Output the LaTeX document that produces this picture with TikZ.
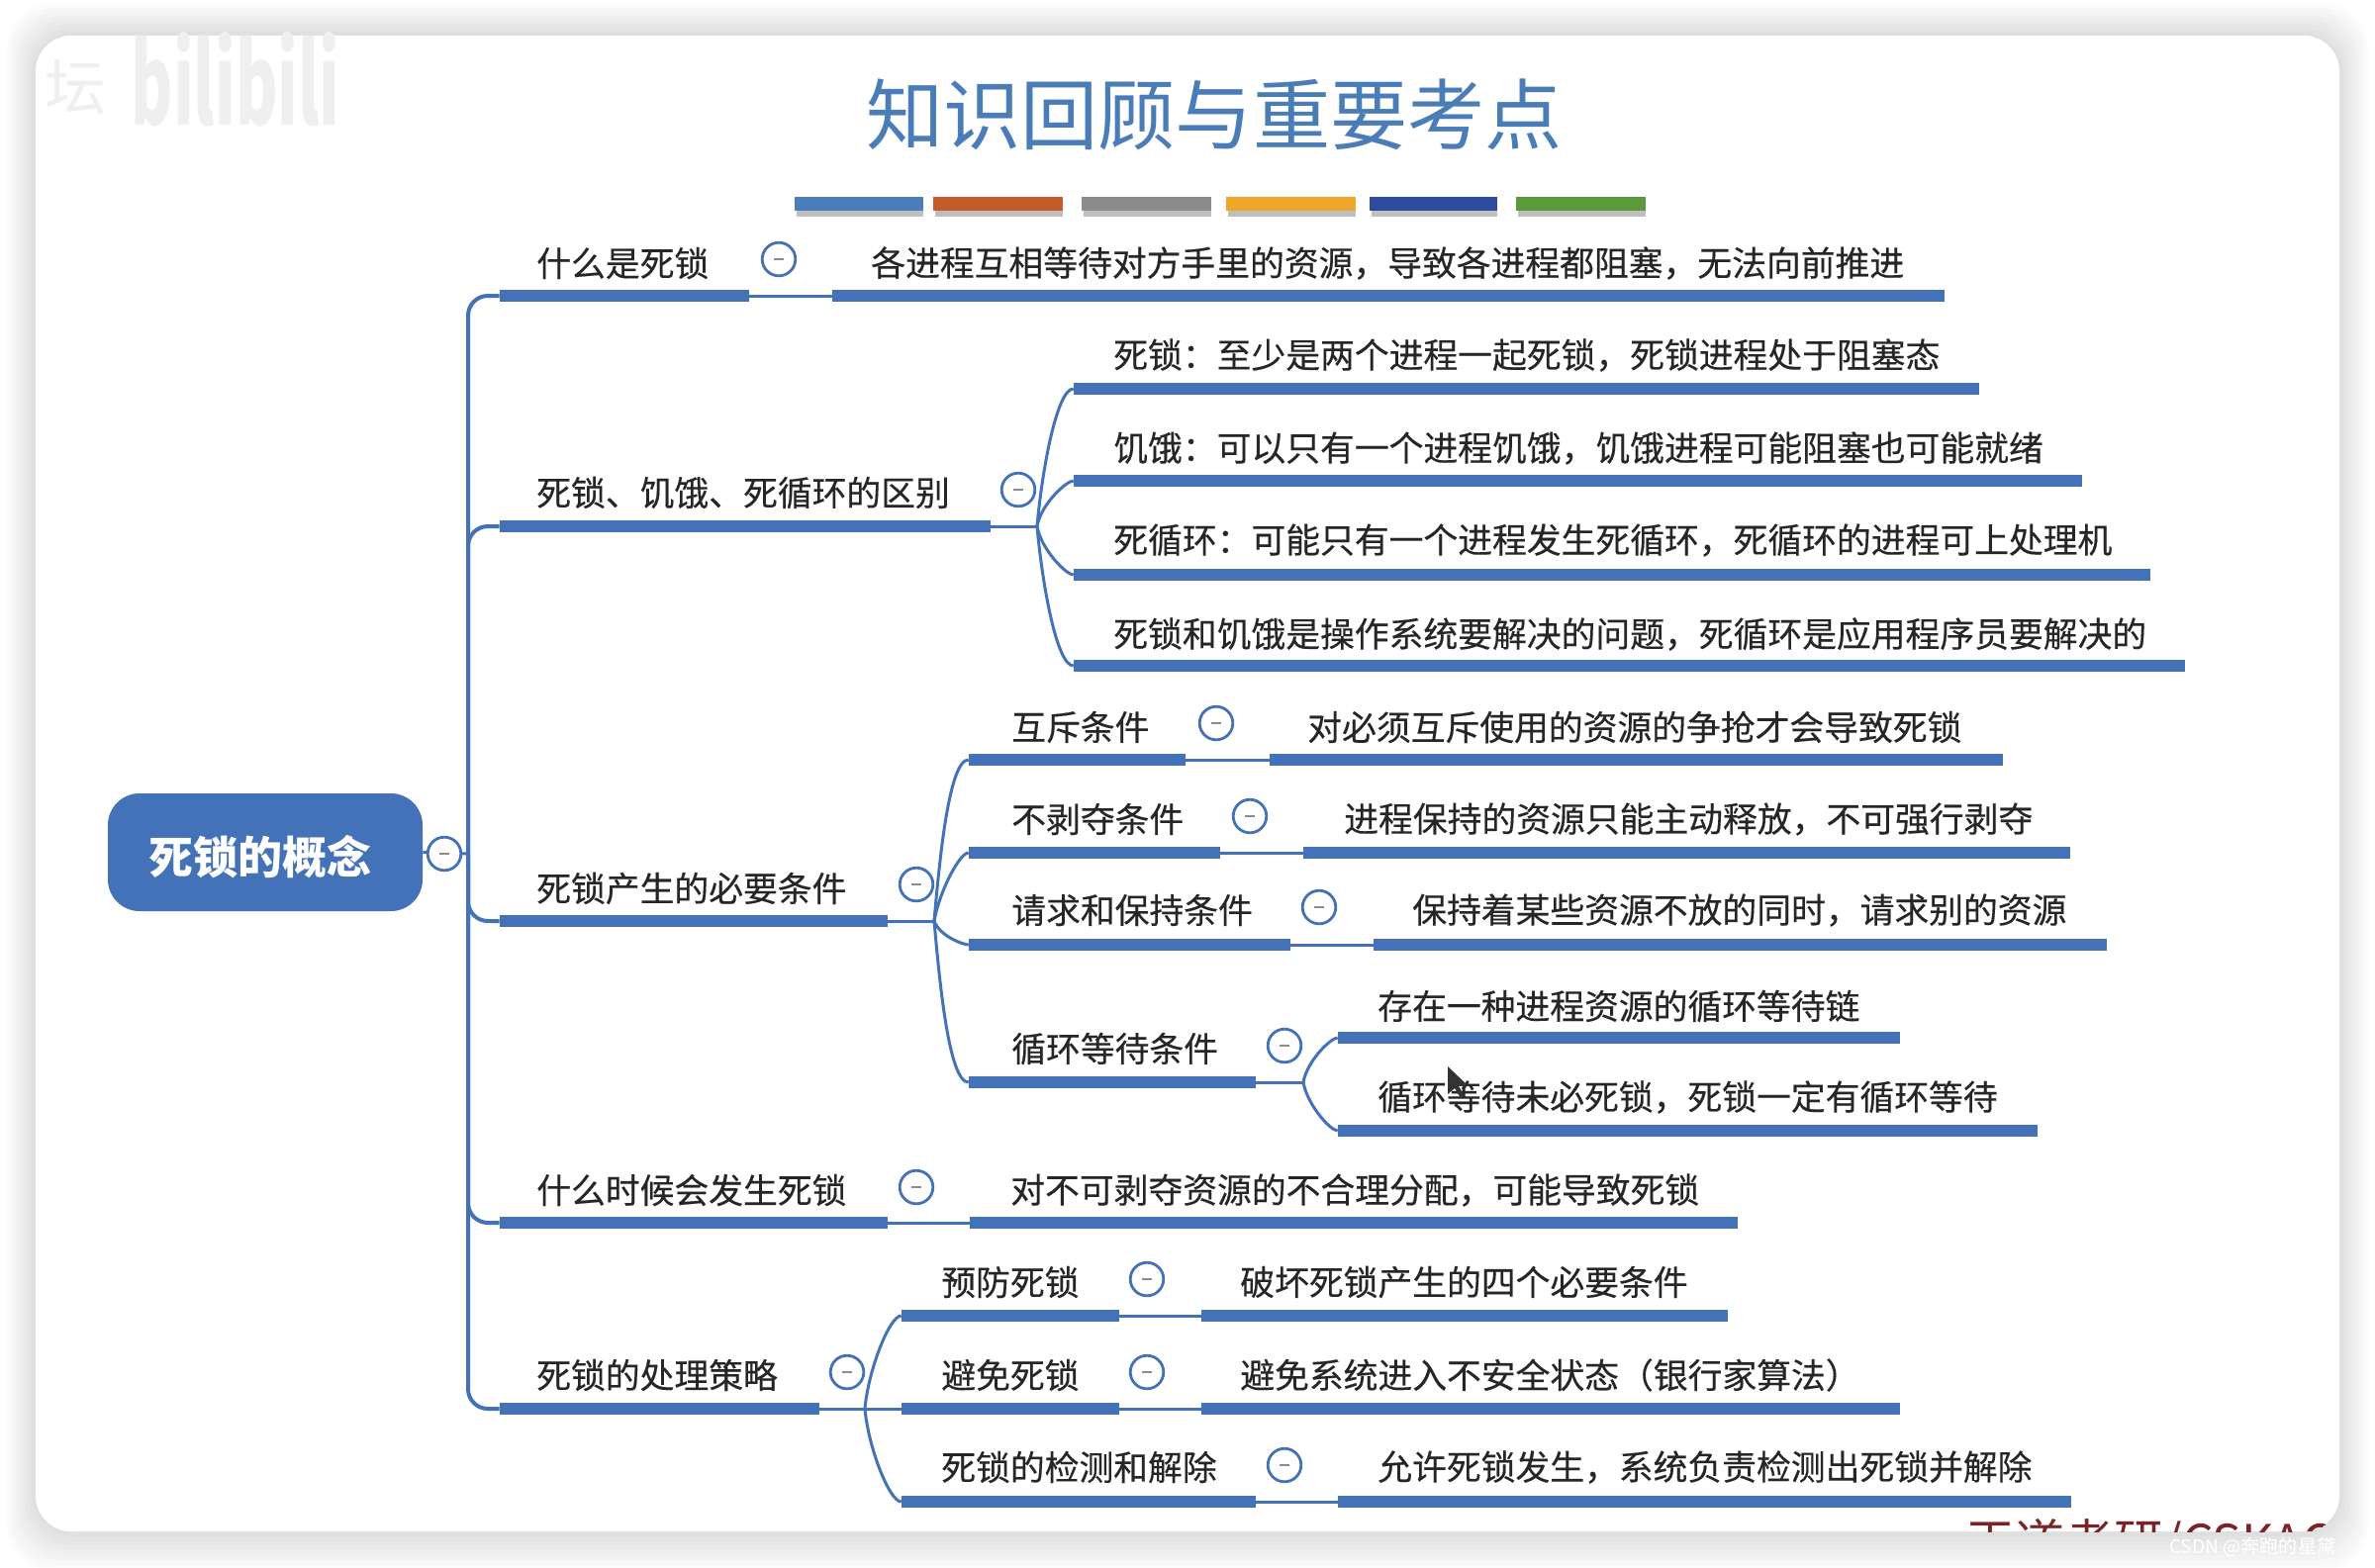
\documentclass[tikz,border=0pt]{standalone}
\usepackage{fontspec}
\setmainfont{Noto Sans CJK SC}
\newfontfamily\heavyfont{Noto Sans CJK SC}[FakeBold=0.35]
\usetikzlibrary{positioning,fit}
\definecolor{cLine}{HTML}{4472B8}
\definecolor{cTitle}{HTML}{4A7DB8}
\definecolor{cText}{HTML}{262626}
\definecolor{cMark}{HTML}{EFEFEF}
\definecolor{cBrand}{HTML}{7A2426}
\tikzset{
  card/.style  ={fill=white,rounded corners=9mm},
  root/.style  ={fill=cLine,rounded corners=8mm,inner sep=0pt},
  lbl/.style   ={anchor=west,inner sep=0pt,text=cText,
                 font=\fontsize{24.75}{30}\selectfont\heavyfont},
  wmark/.style ={inner sep=0pt,text=cMark},
  bar/.style   ={fill=cLine,inner sep=0pt,minimum height=3mm},
  link/.style  ={draw=cLine,line width=.75mm},
  twig/.style  ={in=180,in looseness=.3},
  bus/.style   ={link,line width=1mm,rounded corners=5mm},
  fold/.style  ={circle,draw=cLine,fill=white,line width=.7mm,minimum size=8.4mm,
                 inner sep=0pt,path picture={\draw[black!45,line width=.6mm]
                 ([xshift=-1.3mm]path picture bounding box.center) -- ++(2.6mm,0);}},
}
\begin{document}
\begin{tikzpicture}[x=.25mm, y=-.25mm]
\useasboundingbox (0,0) rectangle (2400,1584);

% --- card and its soft shadow ----------------------------------------------
\foreach \s in {32,28,...,0}
  \fill[black,opacity=.016,rounded corners=11mm]
    (36-\s*.9,36-\s) rectangle (2364+\s*.9,1548+\s*1.2);
\fill[card] (36,36) rectangle (2364,1548);

% --- corner marks ----------------------------------------------------------
\node[wmark,font=\fontsize{46}{50}\selectfont\bfseries] (logo) at (238,80)
  {\scalebox{1}[1.75]{bilibili}};
\node[wmark,font=\fontsize{44}{50}\selectfont] (logo2) at (76,88) {坛};
\node[inner sep=0pt,anchor=west,text=white,font=\fontsize{13.6}{16}\selectfont] (csdn)
  at (2192,1564) {CSDN @奔跑的星黛};
\begin{scope}
  \clip[rounded corners=9mm] (36,1400) rectangle (2364,1548);
  \node[inner sep=0pt,anchor=base west,text=cBrand,font=\fontsize{35.5}{40}\selectfont] (brand)
    at (1986,1577) {王道考研/CSKAOYAN.COM};
\end{scope}

% --- title and colour strip ------------------------------------------------
\node[inner sep=0pt,text=cTitle,font=\fontsize{55.6}{60}\selectfont] (title) at (1227,116) {知识回顾与重要考点};
\foreach \a/\b/\c in {803/933/4A7EBB,943/1074/C55A2B,1093/1224/8C8C8C,
                      1239/1370/EFA72A,1384/1513/2F4BA0,1532/1663/5B9A3A}{
  \definecolor{cSw}{HTML}{\c}
  \fill[black!25] (\a+2,213) rectangle (\b,219);
  \fill[cSw] (\a,199) rectangle (\b,213);
}

% --- root ------------------------------------------------------------------
\node[root,fit={(109,802)(427,921)}] (rt) {};
\node[inner sep=0pt,text=white,font=\fontsize{32}{36}\selectfont\bfseries] (rtx) at (263,866) {死锁的概念};
\coordinate (jm) at (473,863);
\draw[link] (rt.east) -- (jm);
\node[fold] (f0) at (449,863) {};

% --- what is it ------------------------------------------------------------
\node[lbl] (t1) at (542,266) {什么是死锁};
\node[bar,fit={(505,299)(757,299)}] (b1) {};
\node[fold] (f1) at (787,262) {};
\node[lbl] (d1) at (880,266) {各进程互相等待对方手里的资源，导致各进程都阻塞，无法向前推进};
\node[bar,fit={(841,299)(1965,299)}] (e1) {};
\draw[link] (b1.east) -- (e1.west);

% --- difference ------------------------------------------------------------
\node[lbl] (t2) at (542,498) {死锁、饥饿、死循环的区别};
\node[bar,fit={(505,532)(1001,532)}] (b2) {};
\node[fold] (f2) at (1029,495) {};
\coordinate (j2) at (1048,532);
\draw[link] (b2.east) -- (j2);
\node[lbl] (d21) at (1125,359) {死锁：至少是两个进程一起死锁，死锁进程处于阻塞态};
\node[bar,fit={(1085,393)(2000,393)}] (e21) {};
\node[lbl] (d22) at (1125,453) {饥饿：可以只有一个进程饥饿，饥饿进程可能阻塞也可能就绪};
\node[bar,fit={(1085,486)(2104,486)}] (e22) {};
\node[lbl] (d23) at (1125,546) {死循环：可能只有一个进程发生死循环，死循环的进程可上处理机};
\node[bar,fit={(1085,581)(2173,581)}] (e23) {};
\node[lbl] (d24) at (1125,641) {死锁和饥饿是操作系统要解决的问题，死循环是应用程序员要解决的};
\node[bar,fit={(1085,673)(2208,673)}] (e24) {};
\draw[link] (j2) to[twig,out=85] (e21.west);
\draw[link] (j2) to[twig,out=80] (e22.west);
\draw[link] (j2) to[twig,out=-80] (e23.west);
\draw[link] (j2) to[twig,out=-85] (e24.west);

% --- necessary conditions --------------------------------------------------
\node[lbl] (t3) at (542,898) {死锁产生的必要条件};
\node[bar,fit={(505,931)(897,931)}] (b3) {};
\node[fold] (f3) at (926,894) {};
\coordinate (j3) at (944,931);
\draw[link] (b3.east) -- (j3);

\node[lbl] (t31) at (1022,735) {互斥条件};
\node[bar,fit={(979,768)(1198,768)}] (b31) {};
\node[fold] (f31) at (1229,731) {};
\node[lbl] (d31) at (1321,735) {对必须互斥使用的资源的争抢才会导致死锁};
\node[bar,fit={(1283,768)(2024,768)}] (e31) {};
\draw[link] (b31.east) -- (e31.west);

\node[lbl] (t32) at (1022,828) {不剥夺条件};
\node[bar,fit={(979,862)(1233,862)}] (b32) {};
\node[fold] (f32) at (1263,825) {};
\node[lbl] (d32) at (1358,828) {进程保持的资源只能主动释放，不可强行剥夺};
\node[bar,fit={(1317,862)(2092,862)}] (e32) {};
\draw[link] (b32.east) -- (e32.west);

\node[lbl] (t33) at (1022,920) {请求和保持条件};
\node[bar,fit={(979,955)(1304,955)}] (b33) {};
\node[fold] (f33) at (1333,917) {};
\node[lbl] (d33) at (1427,920) {保持着某些资源不放的同时，请求别的资源};
\node[bar,fit={(1388,955)(2129,955)}] (e33) {};
\draw[link] (b33.east) -- (e33.west);

\node[lbl] (t34) at (1022,1060) {循环等待条件};
\node[bar,fit={(979,1094)(1269,1094)}] (b34) {};
\node[fold] (f34) at (1298,1057) {};
\coordinate (j34) at (1317,1094);
\draw[link] (b34.east) -- (j34);
\node[lbl] (d341) at (1392,1017) {存在一种进程资源的循环等待链};
\node[bar,fit={(1352,1049)(1920,1049)}] (e341) {};
\node[lbl] (d342) at (1392,1109) {循环等待未必死锁，死锁一定有循环等待};
\node[bar,fit={(1352,1143)(2059,1143)}] (e342) {};
\draw[link] (j34) to[twig,out=80] (e341.west);
\draw[link] (j34) to[twig,out=-80] (e342.west);

\draw[link] (j3) to[twig,out=85] (b31.west);
\draw[link] (j3) to[twig,out=80] (b32.west);
\draw[link] (j3) to[twig,out=-70] (b33.west);
\draw[link] (j3) to[twig,out=-85] (b34.west);

% the pointer left on the screen
\fill[black!80] (1463,1078) -- (1463,1106) -- (1470,1100) -- (1476,1110) -- (1480,1108)
  -- (1474,1098) -- (1483,1097) -- cycle;

% --- when ------------------------------------------------------------------
\node[lbl] (t4) at (542,1203) {什么时候会发生死锁};
\node[bar,fit={(505,1236)(897,1236)}] (b4) {};
\node[fold] (f4) at (926,1200) {};
\node[lbl] (d4) at (1021,1203) {对不可剥夺资源的不合理分配，可能导致死锁};
\node[bar,fit={(980,1236)(1756,1236)}] (e4) {};
\draw[link] (b4.east) -- (e4.west);

% --- strategies ------------------------------------------------------------
\node[lbl] (t5) at (542,1390) {死锁的处理策略};
\node[bar,fit={(505,1424)(828,1424)}] (b5) {};
\node[fold] (f5) at (856,1387) {};
\coordinate (j5) at (874,1424);

\node[lbl] (t51) at (951,1296) {预防死锁};
\node[bar,fit={(911,1330)(1131,1330)}] (b51) {};
\node[fold] (f51) at (1159,1293) {};
\node[lbl] (d51) at (1253,1296) {破坏死锁产生的四个必要条件};
\node[bar,fit={(1214,1330)(1746,1330)}] (e51) {};
\draw[link] (b51.east) -- (e51.west);

\node[lbl] (t52) at (951,1390) {避免死锁};
\node[bar,fit={(911,1424)(1131,1424)}] (b52) {};
\node[fold] (f52) at (1159,1387) {};
\node[lbl] (d52) at (1253,1390) {避免系统进入不安全状态（银行家算法）};
\node[bar,fit={(1214,1424)(1920,1424)}] (e52) {};
\draw[link] (b52.east) -- (e52.west);

\node[lbl] (t53) at (951,1483) {死锁的检测和解除};
\node[bar,fit={(911,1518)(1269,1518)}] (b53) {};
\node[fold] (f53) at (1298,1481) {};
\node[lbl] (d53) at (1392,1483) {允许死锁发生，系统负责检测出死锁并解除};
\node[bar,fit={(1352,1518)(2093,1518)}] (e53) {};
\draw[link] (b53.east) -- (e53.west);

\draw[link] (b5.east) -- (b52.west);
\draw[link] (j5) to[twig,out=85] (b51.west);
\draw[link] (j5) to[twig,out=-85] (b53.west);

% --- main bus --------------------------------------------------------------
\draw[bus] (jm) |- (b1.west);
\draw[bus] (jm) |- (b2.west);
\draw[bus] (jm) |- (b3.west);
\draw[bus] (jm) |- (b4.west);
\draw[bus] (jm) |- (b5.west);
\end{tikzpicture}
\end{document}
